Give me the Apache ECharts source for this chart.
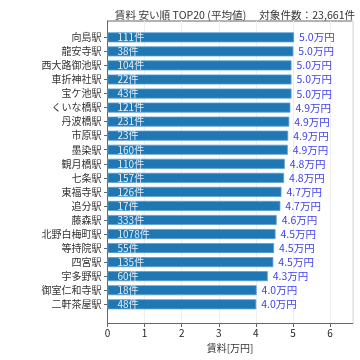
<!DOCTYPE html>
<html><head><meta charset="utf-8">
<script src="https://cdn.jsdelivr.net/npm/echarts@6/dist/echarts.min.js"></script>
<style>html,body{margin:0;padding:0;background:#fff}#c{width:360px;height:360px}</style>
</head><body><div id="c"></div>
<script>
const stations = ['向島駅','龍安寺駅','西大路御池駅','車折神社駅','宝ケ池駅','くいな橋駅','丹波橋駅','市原駅','墨染駅','観月橋駅','七条駅','東福寺駅','追分駅','藤森駅','北野白梅町駅','等持院駅','四宮駅','宇多野駅','御室仁和寺駅','二軒茶屋駅'];
const rents = [5.03,5.01,4.96,4.96,4.96,4.93,4.90,4.87,4.86,4.78,4.76,4.69,4.66,4.56,4.53,4.49,4.47,4.32,4.02,4.01];
const counts = [111,38,104,22,43,121,231,23,160,110,157,126,17,333,1078,55,135,60,18,48];
const xTicks = [0,1,2,3,4,5,6];
const titleText = '賃料 安い順 TOP20 (平均値)　 対象件数：23,661件';
const xName = '賃料[万円]';

const FONT = '"Noto Sans CJK JP", "Noto Sans", sans-serif';
const X_MAX = 6.61;
const chart = echarts.init(document.getElementById('c'), null, {renderer:'canvas'});
chart.setOption({
  animation:false,
  textStyle:{fontFamily:FONT},
  title:{text:titleText,left:230,top:5,textAlign:'center',
    textStyle:{fontSize:10.6,fontWeight:'normal',color:'#333',fontFamily:FONT}},
  grid:[
    {left:107.5,right:7.3,top:21,bottom:36.5,show:true,borderColor:'#666',borderWidth:1,backgroundColor:'transparent'},
    {left:107.5,right:7.3,top:30.3,height:281}
  ],
  xAxis:[
    {gridIndex:0,type:'value',min:0,max:X_MAX,interval:1,
      axisLine:{show:true,lineStyle:{color:'#666'}},
      axisTick:{show:true,length:3.5,lineStyle:{color:'#666'}},
      axisLabel:{showMaxLabel:false,fontSize:10,color:'#222',margin:5,fontFamily:FONT,
        formatter:v=>xTicks.includes(v)?String(v):''},
      splitLine:{show:true,lineStyle:{color:'#eeeeee',width:1}},
      name:xName,nameLocation:'middle',nameGap:16,
      nameTextStyle:{fontSize:10,color:'#333',fontFamily:FONT}},
    {gridIndex:1,type:'value',min:0,max:X_MAX,show:false}
  ],
  yAxis:[
    {gridIndex:0,type:'value',min:0,max:1,axisLine:{show:true,lineStyle:{color:'#666'}},
      axisTick:{show:false},axisLabel:{show:false},splitLine:{show:false}},
    {gridIndex:1,type:'category',inverse:true,data:stations,
      axisLine:{show:false},
      axisTick:{show:true,alignWithLabel:true,length:3.5,lineStyle:{color:'#666'}},
      axisLabel:{fontSize:10,color:'#333',margin:6,fontFamily:FONT}}
  ],
  series:[{
    type:'bar',xAxisIndex:1,yAxisIndex:1,
    data:rents,barWidth:10,
    itemStyle:{color:'#1f77b4',borderColor:'#5b9fd0',borderWidth:0.8},
    label:{show:true,position:'right',distance:5,fontSize:10.5,color:'#4040ee',fontFamily:FONT,
      formatter:p=>p.value.toFixed(1)+'万円'}
  },{
    type:'bar',xAxisIndex:1,yAxisIndex:1,barGap:'-100%',
    data:rents,barWidth:10,silent:true,
    itemStyle:{color:'transparent'},
    label:{show:true,position:'insideLeft',distance:10,fontSize:10,color:'#e6eef7',fontFamily:FONT,
      formatter:p=>counts[p.dataIndex]+'件'}
  }]
});
</script></body></html>
